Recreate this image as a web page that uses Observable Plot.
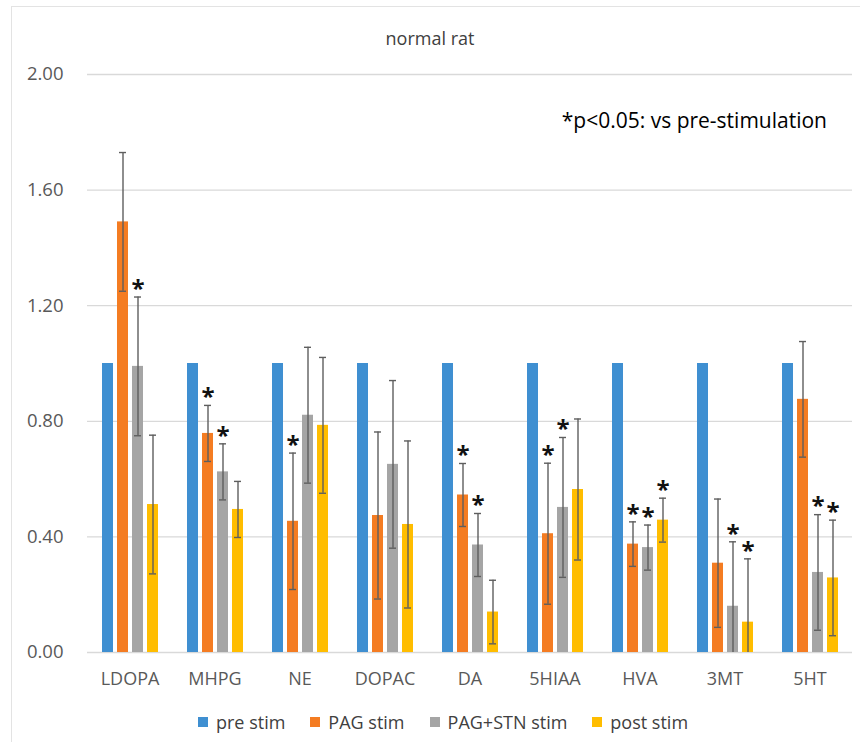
<!DOCTYPE html>
<html>
<head>
<meta charset="utf-8">
<script src="https://cdn.jsdelivr.net/npm/d3@7"></script>
<script src="https://cdn.jsdelivr.net/npm/@observablehq/plot@0.6"></script>
<style>
  html, body { margin: 0; padding: 0; background: #fff; }
  #wrap { position: relative; width: 860px; height: 742px; overflow: hidden; font-family: "Open Sans", sans-serif; background: #fff; }
  #frame { position: absolute; left: 11px; top: 6px; right: -4px; bottom: -4px; border-left: 1.5px solid #e3e3e3; border-top: 1.5px solid #e3e3e3; pointer-events: none; }
  #title { position: absolute; left: 0; width: 860px; top: 25px; text-align: center; font-size: 18px; line-height: 26px; color: #404040; }
  #note { position: absolute; right: 33px; top: 106px; font-size: 21px; line-height: 28px; color: #000; white-space: nowrap; }
  #legend { position: absolute; left: 198px; top: 709px; display: flex; align-items: center; font-size: 18px; line-height: 26px; color: #404040; }
  #legend .item { display: flex; align-items: center; margin-right: 25px; }
  #legend .sw { width: 10px; height: 10px; margin-right: 8px; }
  #chart { position: absolute; left: 0; top: 0; }
</style>
</head>
<body>
<div id="wrap">
  <div id="chart"></div>
  <div id="frame"></div>
  <div id="title"></div>
  <div id="note"></div>
  <div id="legend"></div>
</div>
<script>
// ---- data ----
const titleText = "normal rat";
const noteText = "*p<0.05: vs pre-stimulation";
const categories = ["LDOPA", "MHPG", "NE", "DOPAC", "DA", "5HIAA", "HVA", "3MT", "5HT"];
const series = ["pre stim", "PAG stim", "PAG+STN stim", "post stim"];
const colors = ["#3f8fd1", "#f47c22", "#a5a5a5", "#ffbd00"];
const yTicks = [0, 0.4, 0.8, 1.2, 1.6, 2.0];

const preStim    = [1.00, 1.00, 1.00, 1.00, 1.00, 1.00, 1.00, 1.00, 1.00];
const pagStim    = [1.49, 0.758, 0.454, 0.474, 0.545, 0.411, 0.375, 0.309, 0.876];
const pagStnStim = [0.99, 0.625, 0.821, 0.651, 0.372, 0.502, 0.363, 0.160, 0.277];
const postStim   = [0.512, 0.495, 0.786, 0.443, 0.140, 0.564, 0.458, 0.105, 0.258];

const preErr     = [null, null, null, null, null, null, null, null, null];
const pagErr     = [0.240, 0.097, 0.236, 0.289, 0.109, 0.244, 0.077, 0.222, 0.200];
const pagStnErr  = [0.240, 0.097, 0.235, 0.290, 0.109, 0.242, 0.078, 0.223, 0.200];
const postErr    = [0.240, 0.097, 0.235, 0.289, 0.110, 0.244, 0.076, 0.219, 0.200];

// significance vs pre-stimulation (1 = asterisk)
const preSig     = [0, 0, 0, 0, 0, 0, 0, 0, 0];
const pagSig     = [0, 1, 1, 0, 1, 1, 1, 0, 0];
const pagStnSig  = [1, 1, 0, 0, 1, 1, 1, 1, 1];
const postSig    = [0, 0, 0, 0, 0, 0, 1, 1, 1];

// ---- table built from the arrays ----
const values = [preStim, pagStim, pagStnStim, postStim];
const errs = [preErr, pagErr, pagStnErr, postErr];
const sigs = [preSig, pagSig, pagStnSig, postSig];
const rows = [];
categories.forEach((c, i) => {
  series.forEach((s, j) => {
    const v = values[j][i];
    const e = errs[j][i];
    rows.push({
      cat: c, series: s, value: v, err: e,
      hi: e == null ? null : v + e,
      lo: e == null ? null : Math.max(0, v - e),
      loRaw: e == null ? null : v - e,
      sig: sigs[j][i] === 1
    });
  });
});
const errRows = rows.filter(d => d.err != null);
const loCapRows = errRows.filter(d => d.loRaw > 0);
const sigRows = rows.filter(d => d.sig);

const errColor = "#5e5e5e";

const chart = Plot.plot({
  width: 860,
  height: 700,
  marginTop: 74,
  marginBottom: 48,
  marginLeft: 83,
  marginRight: 4,
  style: { fontFamily: "Open Sans, sans-serif", background: "transparent" },
  fx: { domain: categories, padding: 0, label: null, axis: null },
  x: { domain: series, axis: null, paddingInner: 0.28, paddingOuter: 0.82 },
  y: { domain: [0, 2], axis: null },
  color: { domain: series, range: colors },
  marks: [
    Plot.gridY(yTicks, { stroke: "#d9d9d9", strokeOpacity: 1, strokeWidth: 1.3 }),
    Plot.axisY(yTicks, {
      tickSize: 0, tickPadding: 24, tickFormat: d => d.toFixed(2),
      fontSize: 18.5, fill: "#595959", label: null
    }),
    Plot.axisFx({
      anchor: "bottom", tickSize: 0, tickPadding: 20,
      fontSize: 18, fill: "#595959", label: null
    }),
    Plot.barY(rows, { fx: "cat", x: "series", y: "value", fill: "series" }),
    Plot.ruleX(errRows, { fx: "cat", x: "series", y1: "lo", y2: "hi", stroke: errColor, strokeWidth: 1.4 }),
    Plot.tickY(errRows, { fx: "cat", x: "series", y: "hi", stroke: errColor, strokeWidth: 1.4, insetLeft: 2, insetRight: 2 }),
    Plot.tickY(loCapRows, { fx: "cat", x: "series", y: "lo", stroke: errColor, strokeWidth: 1.4, insetLeft: 2, insetRight: 2 }),
    Plot.text(sigRows, {
      fx: "cat", x: "series", y: "hi", text: () => "*",
      dy: -8, fontSize: 24, fontWeight: "bold", fill: "#111", lineAnchor: "middle"
    })
  ]
});
document.getElementById("chart").appendChild(chart);

document.getElementById("title").textContent = titleText;
document.getElementById("note").textContent = noteText;
const legend = document.getElementById("legend");
series.forEach((s, j) => {
  const item = document.createElement("div");
  item.className = "item";
  const sw = document.createElement("span");
  sw.className = "sw";
  sw.style.background = chart.scale("color").apply(s);
  const label = document.createElement("span");
  label.textContent = s;
  item.appendChild(sw);
  item.appendChild(label);
  legend.appendChild(item);
});
</script>
</body>
</html>
